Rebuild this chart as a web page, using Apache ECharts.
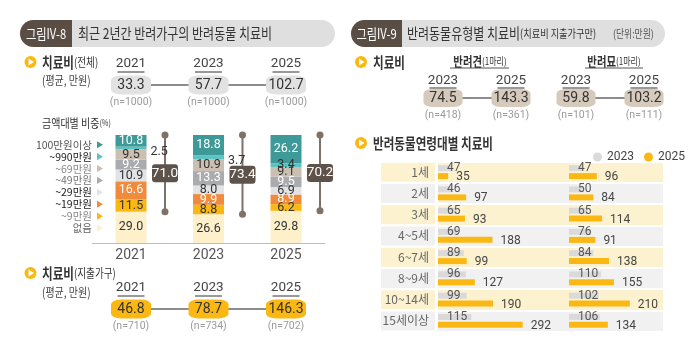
<!DOCTYPE html>
<html>
<head>
<meta charset="utf-8">
<script src="https://cdn.jsdelivr.net/npm/echarts@6/dist/echarts.min.js"></script>
<style>
html, body { margin: 0; padding: 0; background: #fff; }
#main { width: 700px; height: 350px; }
</style>
</head>
<body>
<div id="main"></div>
<script>
// 치료비 (전체 / 지출가구)
var years = ['2021', '2023', '2025'];
var totalCost = [33.3, 57.7, 102.7];
var totalN = ['(n=1000)', '(n=1000)', '(n=1000)'];
var spendCost = [46.8, 78.7, 146.3];
var spendN = ['(n=710)', '(n=734)', '(n=702)'];

// 금액대별 비중(%)
var bands = ['100만원이상', '~990만원', '~69만원', '~49만원', '~29만원', '~19만원', '~9만원', '없음'];
var share100 = [10.8, 18.8, 26.2];
var share99 = [2.5, 3.7, 3.4];
var share69 = [9.5, 10.9, 9.1];
var share49 = [9.2, 13.3, 9.5];
var share29 = [10.9, 8.0, 6.9];
var share19 = [16.6, 9.9, 8.9];
var share9 = [11.5, 8.8, 6.2];
var shareNone = [29.0, 26.6, 29.8];
var spendShare = [71.0, 73.4, 70.2];

// 반려동물유형별 치료비
var typeYears = ['2023', '2025'];
var dogCost = [74.5, 143.3];
var dogN = ['(n=418)', '(n=361)'];
var catCost = [59.8, 103.2];
var catN = ['(n=101)', '(n=111)'];

// 반려동물연령대별 치료비
var ageGroups = ['1세', '2세', '3세', '4~5세', '6~7세', '8~9세', '10~14세', '15세이상'];
var dog2023 = [47, 46, 65, 69, 89, 96, 99, 115];
var dog2025 = [35, 97, 93, 188, 99, 127, 190, 292];
var cat2023 = [47, 50, 65, 76, 84, 110, 102, 106];
var cat2025 = [96, 84, 114, 91, 138, 155, 210, 134];

var FONT = '"Noto Sans CJK KR", "Noto Sans", sans-serif';
var NUM = '"Liberation Sans Narrow", "Roboto", "Noto Sans CJK KR", sans-serif';

var myChart = echarts.init(document.getElementById('main'), null, { renderer: 'canvas' });

function yearLabel(margin) {
    return { margin: margin, fontSize: 13.5, color: '#444', fontFamily: NUM };
}
function nLabel(margin) {
    return { margin: margin, fontSize: 10.5, color: '#9b9b9b', fontFamily: NUM };
}
function catAxis(grid, data, pos, label) {
    return {
        type: 'category', gridIndex: grid, position: pos, data: data,
        axisLine: { show: false }, axisTick: { show: false }, axisLabel: label
    };
}
function rowAxis(grid, name) {
    return { type: 'category', gridIndex: grid, data: [name], show: false };
}
function valueRow(xi, yi, row, cats, costs, fill, w, h) {
    return {
        type: 'line', xAxisIndex: xi, yAxisIndex: yi, silent: true,
        data: costs.map(function (v, i) { return [cats[i], row, v]; }),
        symbol: 'roundRect', symbolSize: [w, h],
        itemStyle: { color: fill },
        lineStyle: { color: '#8d8d8d', width: 2 },
        label: {
            show: true, position: 'inside', fontSize: 14, color: '#333', fontFamily: NUM,
            formatter: function (p) { return p.value[2].toFixed(1); }
        },
        emphasis: { disabled: true }
    };
}

var stackDefs = [
    ['없음', shareNone, '#fdf0cb', '#333'],
    ['~9만원', share9, '#fbb813', '#333'],
    ['~19만원', share19, '#f08a3c', '#fff'],
    ['~29만원', share29, '#e2e3e5', '#333'],
    ['~49만원', share49, '#a9abae', '#fff'],
    ['~69만원', share69, '#cbbfb2', '#333'],
    ['~990만원', share99, '#5cc3c3', '#333'],
    ['100만원이상', share100, '#3d9a98', '#fff']
];
var legendColors = {
    '100만원이상': '#555', '~990만원': '#222', '~69만원': '#888', '~49만원': '#777',
    '~29만원': '#222', '~19만원': '#222', '~9만원': '#888', '없음': '#666'
};

var series = [];
series.push(valueRow(0, 0, '전체', years, totalCost, '#e2e2e2', 40, 19));
series.push(valueRow(2, 1, '지출가구', years, spendCost, '#fbb813', 40, 19));
series.push(valueRow(5, 3, '반려견', typeYears, dogCost, '#d6cabc', 39, 18));
series.push(valueRow(7, 4, '반려묘', typeYears, catCost, '#d6cabc', 39, 18));

stackDefs.forEach(function (d) {
    series.push({
        type: 'bar', name: d[0], stack: 'share', xAxisIndex: 4, yAxisIndex: 2,
        barWidth: 31, silent: true,
        itemStyle: { color: d[2] },
        data: d[1].map(function (v, i) {
            if (d[1] === share99 && i < 2) {
                return { value: v, label: { position: 'right', distance: 4, offset: [0, 4] } };
            }
            return v;
        }),
        label: {
            show: true, position: 'inside', color: d[3], fontSize: 12.5, fontFamily: NUM,
            formatter: function (p) { return Number(p.value).toFixed(1); }
        },
        emphasis: { disabled: true }
    });
});

// 없음 제외 비중 브래킷
series.push({
    type: 'custom', name: 'bracket', xAxisIndex: 4, yAxisIndex: 2, silent: true,
    encode: { x: 0, y: 1 },
    data: years.map(function (y, i) { return [i, shareNone[i], spendShare[i]]; }),
    renderItem: function (params, api) {
        var top = api.coord([api.value(0), 100]);
        var bot = api.coord([api.value(0), api.value(1)]);
        var x = top[0] + 34;
        var mid = (top[1] + bot[1]) / 2;
        var c = '#7d7168';
        return {
            type: 'group', children: [
                { type: 'line', shape: { x1: x, y1: top[1], x2: x, y2: bot[1] }, style: { stroke: c, lineWidth: 2 } },
                { type: 'circle', shape: { cx: x, cy: top[1], r: 3.5 }, style: { fill: c } },
                { type: 'circle', shape: { cx: x, cy: bot[1], r: 3.5 }, style: { fill: c } },
                { type: 'rect', shape: { x: x - 13, y: mid - 9, width: 26, height: 18, r: 3 }, style: { fill: '#5e534a' } },
                { type: 'text', style: { text: api.value(2).toFixed(1), x: x, y: mid, align: 'center', verticalAlign: 'middle', fill: '#fff', fontSize: 13.5, fontFamily: NUM } }
            ]
        };
    }
});

// 연령대별 막대
[[9, 5, dog2023, dog2025], [10, 6, cat2023, cat2025]].forEach(function (g) {
    series.push({
        type: 'bar', name: '2023', xAxisIndex: g[0], yAxisIndex: g[1], data: g[2],
        barWidth: 6, barGap: '33%', silent: true,
        itemStyle: { color: '#dadada' },
        label: { show: true, position: 'insideLeft', distance: 9, color: '#555', fontSize: 12, fontFamily: NUM },
        emphasis: { disabled: true }
    });
    series.push({
        type: 'bar', name: '2025', xAxisIndex: g[0], yAxisIndex: g[1], data: g[3],
        barWidth: 6, barGap: '33%', silent: true,
        itemStyle: { color: '#fbb813' },
        label: { show: true, position: 'right', distance: 8, offset: [0, 1], color: '#444', fontSize: 12, fontFamily: NUM },
        emphasis: { disabled: true }
    });
});

function bullet(cx, cy) {
    return [
        { type: 'circle', shape: { cx: cx, cy: cy, r: 6 }, style: { fill: '#fbb813' } },
        { type: 'polygon', shape: { points: [[cx - 2, cy - 3.5], [cx - 2, cy + 3.5], [cx + 3.5, cy]] }, style: { fill: '#fff' } }
    ];
}
function txt(x, y, text, rich, extra) {
    var el = {
        type: 'text', x: x, y: y, scaleX: 0.8,
        style: { text: text, rich: rich, fontSize: 12, fontFamily: FONT, fill: '#444', verticalAlign: 'middle' }
    };
    if (extra) { for (var k in extra) el.style[k] = extra[k]; }
    return el;
}
var headRich = {
    b: { fontSize: 14.5, fontWeight: 'bold', fontFamily: FONT, fill: '#333' },
    s: { fontSize: 12, fontFamily: FONT, fill: '#333' }
};
var petRich = {
    b: { fontSize: 13, fontWeight: 'bold', fontFamily: FONT, fill: '#333' },
    s: { fontSize: 10, fontFamily: FONT, fill: '#333' }
};

var elements = [
    // 그림 IV-8 제목
    { type: 'rect', shape: { x: 20, y: 20, width: 315, height: 27, r: 13.5 }, style: { fill: '#dfdfdf' } },
    { type: 'rect', shape: { x: 20, y: 20, width: 52, height: 27, r: [13.5, 0, 0, 13.5] }, style: { fill: '#5a4e44' } },
    txt(46, 33.5, '그림IV-8', null, { fill: '#fff', fontSize: 14, align: 'center' }),
    txt(78, 33.5, '최근 2년간 반려가구의 반려동물 치료비', null, { fill: '#333', fontSize: 15 }),
    // 그림 IV-9 제목
    { type: 'rect', shape: { x: 351, y: 20, width: 314, height: 27, r: 13.5 }, style: { fill: '#dfdfdf' } },
    { type: 'rect', shape: { x: 351, y: 20, width: 51, height: 27, r: [13.5, 0, 0, 13.5] }, style: { fill: '#5a4e44' } },
    txt(376.5, 33.5, '그림IV-9', null, { fill: '#fff', fontSize: 14, align: 'center' }),
    txt(407, 33.5, '{t|반려동물유형별 치료비}{s|(치료비 지출가구만)}', {
        t: { fontSize: 15, fontFamily: FONT, fill: '#333' },
        s: { fontSize: 11.5, fontFamily: FONT, fill: '#333' }
    }),
    txt(613, 33.5, '(단위:만원)', null, { fontSize: 11, fill: '#555' }),
    // 왼쪽 소제목
    txt(42, 62, '{b|치료비}{s|(전체)}', headRich),
    txt(42, 80, '(평균, 만원)', null, { fontSize: 12.5, fill: '#444' }),
    txt(42, 123, '{a|금액대별 비중}{p|(%)}', {
        a: { fontSize: 12.5, fontFamily: FONT, fill: '#333' },
        p: { fontSize: 9, fontFamily: FONT, fill: '#333' }
    }),
    txt(42, 273, '{b|치료비}{s|(지출가구)}', headRich),
    txt(42, 292, '(평균, 만원)', null, { fontSize: 12.5, fill: '#444' }),
    // 오른쪽 소제목
    txt(373, 62, '{b|치료비}', headRich),
    txt(480, 61, '{b|반려견}{s|(1마리)}', petRich, { align: 'center' }),
    { type: 'line', shape: { x1: 450, y1: 68, x2: 509, y2: 68 }, style: { stroke: '#555', lineWidth: 1 } },
    txt(614, 61, '{b|반려묘}{s|(1마리)}', petRich, { align: 'center' }),
    { type: 'line', shape: { x1: 585, y1: 68, x2: 643, y2: 68 }, style: { stroke: '#555', lineWidth: 1 } },
    txt(373, 143, '{b|반려동물연령대별 치료비}', headRich)
].concat(bullet(30.5, 62), bullet(30.5, 273), bullet(361, 62), bullet(361, 143));

var option = {
    animation: false,
    backgroundColor: '#fff',
    textStyle: { fontFamily: FONT },
    graphic: { elements: elements },
    legend: [{
        orient: 'vertical', right: 592, top: 134.5, align: 'right',
        itemWidth: 6, itemHeight: 8, itemGap: 1.4, selectedMode: false,
        icon: 'path://M0,0L10,6L0,12Z',
        textStyle: { fontSize: 10.5, lineHeight: 10, fontFamily: FONT },
        data: bands.map(function (b) { return { name: b, textStyle: { color: legendColors[b] } }; })
    }, {
        left: 588, top: 146, itemWidth: 9, itemHeight: 9, itemGap: 10, selectedMode: false,
        icon: 'circle',
        textStyle: { fontSize: 12, color: '#444', fontFamily: NUM },
        data: ['2023', '2025']
    }],
    grid: [
        { left: 92.25, top: 75.5, width: 232.5, height: 19, outerBoundsMode: 'none' },
        { left: 92.25, top: 299.5, width: 232.5, height: 19, outerBoundsMode: 'none' },
        { left: 92.25, top: 135, width: 232.5, height: 108, outerBoundsMode: 'none' },
        { left: 409, top: 89, width: 136, height: 18, outerBoundsMode: 'none' },
        { left: 542, top: 89, width: 136, height: 18, outerBoundsMode: 'none' },
        { left: 438, top: 161.5, width: 225, height: 170, outerBoundsMode: 'none' },
        { left: 569, top: 161.5, width: 120, height: 170, outerBoundsMode: 'none' }
    ],
    xAxis: [
        catAxis(0, years, 'top', yearLabel(5)),
        catAxis(0, totalN, 'bottom', nLabel(3)),
        catAxis(1, years, 'top', yearLabel(5)),
        catAxis(1, spendN, 'bottom', nLabel(3)),
        {
            type: 'category', gridIndex: 2, data: years,
            axisLine: { lineStyle: { color: '#bdbdbd', width: 1 } }, axisTick: { show: false },
            axisLabel: { margin: 6, fontSize: 14, color: '#555', fontFamily: NUM }
        },
        catAxis(3, typeYears, 'top', yearLabel(2)),
        catAxis(3, dogN, 'bottom', nLabel(3)),
        catAxis(4, typeYears, 'top', yearLabel(2)),
        catAxis(4, catN, 'bottom', nLabel(3)),
        { type: 'value', gridIndex: 5, min: 0, max: 776, show: false },
        { type: 'value', gridIndex: 6, min: 0, max: 414, show: false }
    ],
    yAxis: [
        rowAxis(0, '전체'),
        rowAxis(1, '지출가구'),
        { type: 'value', gridIndex: 2, min: 0, max: 100, show: false },
        rowAxis(3, '반려견'),
        rowAxis(4, '반려묘'),
        {
            type: 'category', gridIndex: 5, inverse: true, data: ageGroups,
            axisLine: { show: false }, axisTick: { show: false },
            splitArea: { show: true, interval: 0, areaStyle: { color: ['#fdf2d0', '#f1f1f1'] } },
            splitLine: { show: true, interval: 0, lineStyle: { color: '#fff', width: 2 } },
            axisLabel: {
                margin: 3, interval: 0,
                formatter: function (v, i) { return (i % 2 ? '{g|' : '{c|') + v + '}'; },
                rich: {
                    c: { width: 48, height: 19, lineHeight: 19, padding: [0, 6, 0, 0], align: 'right', backgroundColor: '#fdf2d0', color: '#666', fontSize: 12, fontFamily: FONT },
                    g: { width: 48, height: 19, lineHeight: 19, padding: [0, 6, 0, 0], align: 'right', backgroundColor: '#f1f1f1', color: '#666', fontSize: 12, fontFamily: FONT }
                }
            }
        },
        { type: 'category', gridIndex: 6, inverse: true, data: ageGroups, show: false }
    ],
    series: series
};

myChart.setOption(option);

// 연도 밑줄: 축 위치에서 계산
var underlines = [];
[[0, years, 72], [2, years, 296], [5, typeYears, 88], [7, typeYears, 88]].forEach(function (u) {
    u[1].forEach(function (yr) {
        var x = myChart.convertToPixel({ xAxisIndex: u[0] }, yr);
        underlines.push({ type: 'line', shape: { x1: x - 13.5, y1: u[2], x2: x + 13.5, y2: u[2] }, style: { stroke: '#555', lineWidth: 1.2 } });
    });
});
myChart.setOption({ graphic: { elements: elements.concat(underlines) } });

window.onresize = myChart.resize;
</script>
</body>
</html>
